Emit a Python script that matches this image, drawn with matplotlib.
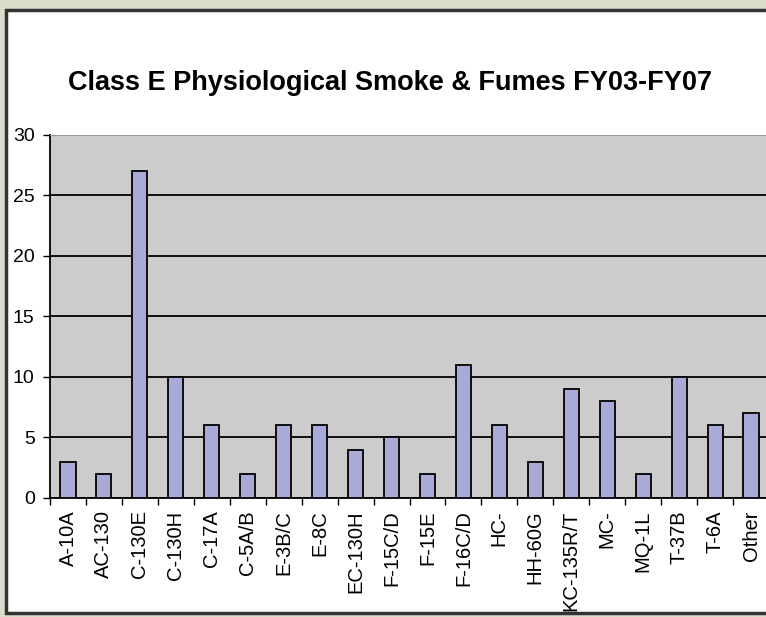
import matplotlib.pyplot as plt
from matplotlib.patches import Rectangle

plt.rcParams['font.family'] = ['Liberation Sans', 'DejaVu Sans']

aircraft = ['A-10A', 'AC-130', 'C-130E', 'C-130H', 'C-17A', 'C-5A/B', 'E-3B/C',
            'E-8C', 'EC-130H', 'F-15C/D', 'F-15E', 'F-16C/D', 'HC-', 'HH-60G',
            'KC-135R/T', 'MC-', 'MQ-1L', 'T-37B', 'T-6A', 'Other']
mishaps = [3, 2, 27, 10, 6, 2, 6, 6, 4, 5, 2, 11, 6, 3, 9, 8, 2, 10, 6, 7]
yticks = [0, 5, 10, 15, 20, 25, 30]

fig = plt.figure(figsize=(7.66, 6.17), dpi=100)
fig.patch.set_facecolor('#dcdccb')

# white chart frame (runs off the right side, like the screenshot)
frame = Rectangle((0.008, 0.006), 1.2, 0.978, transform=fig.transFigure,
                  facecolor='white', edgecolor='#333333', linewidth=2.5, zorder=-5)
fig.patches.append(frame)

ax = fig.add_axes([0.0653, 0.193, 0.9386, 0.5883])
ax.set_zorder(2)
ax.set_facecolor('#cccccc')

x = list(range(len(aircraft)))
ax.bar(x, mishaps, width=0.42, color='#aaaad8', edgecolor='black',
       linewidth=1.3, zorder=3)

ax.set_xlim(-0.5, len(aircraft) - 0.5)
ax.set_ylim(0, 30)
ax.set_yticks(yticks)
ax.yaxis.grid(True, color='black', linewidth=1.3, zorder=1)
ax.set_axisbelow(True)

ax.set_xticks([i - 0.5 for i in x])
ax.set_xticklabels([])
ax.set_xticks(x, minor=True)
ax.set_xticklabels(aircraft, minor=True, rotation=90, fontsize=14.5)
ax.tick_params(axis='x', which='minor', length=0, pad=9)
ax.tick_params(axis='x', which='major', length=5, width=1, direction='out')
ax.tick_params(axis='y', length=5, width=1, labelsize=14, pad=6)

ax.spines['left'].set_linewidth(1.3)
ax.spines['bottom'].set_linewidth(1.3)
ax.spines['top'].set_color('#999999')
ax.spines['right'].set_visible(False)

fig.text(0.509, 0.865, 'Class E Physiological Smoke & Fumes FY03-FY07',
         ha='center', va='center', fontsize=19.5, fontweight='bold')

fig.savefig('out.png', dpi=100, facecolor=fig.get_facecolor())
